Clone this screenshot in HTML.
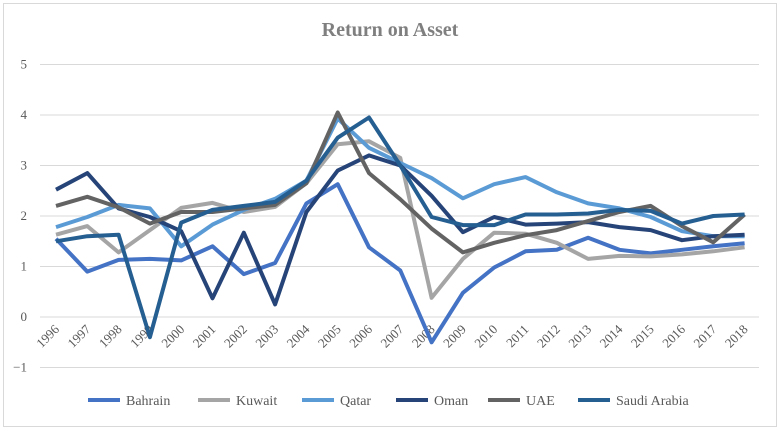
<!DOCTYPE html>
<html><head><meta charset="utf-8"><style>
html,body{margin:0;padding:0;background:#fff;}
svg{display:block;font-family:"Liberation Serif",serif;}
</style></head><body>
<svg id="c" width="780" height="434" viewBox="0 0 780 434" xmlns="http://www.w3.org/2000/svg">
<rect x="3.5" y="3.5" width="773" height="423" fill="#fff" stroke="#d9d9d9"/>
<text x="390" y="36" text-anchor="middle" font-size="20" font-weight="bold" fill="#7f7f7f">Return on Asset</text>
<g id="grid" stroke="#d9d9d9" stroke-width="1"></g>
<g id="ylab" font-size="13" fill="#595959" text-anchor="end"></g>
<g id="xlab" font-size="13" fill="#595959"></g>
<g id="lines" fill="none" stroke-width="4" stroke-linejoin="round"></g>
<g font-size="14" fill="#595959">
<line x1="88" y1="400" x2="120" y2="400" stroke="#4472C4" stroke-width="4"/><text x="126" y="405">Bahrain</text>
<line x1="198" y1="400" x2="230" y2="400" stroke="#A5A5A5" stroke-width="4"/><text x="236" y="405">Kuwait</text>
<line x1="302" y1="400" x2="334" y2="400" stroke="#5B9BD5" stroke-width="4"/><text x="340" y="405">Qatar</text>
<line x1="396" y1="400" x2="428" y2="400" stroke="#264478" stroke-width="4"/><text x="434" y="405">Oman</text>
<line x1="488" y1="400" x2="520" y2="400" stroke="#636363" stroke-width="4"/><text x="526" y="405">UAE</text>
<line x1="578" y1="400" x2="610" y2="400" stroke="#255E91" stroke-width="4"/><text x="616" y="405">Saudi Arabia</text>
</g>
</svg>
<script>
var NS="http://www.w3.org/2000/svg";
function el(p,t,a,txt){var e=document.createElementNS(NS,t);for(var k in a)e.setAttribute(k,a[k]);if(txt!=null)e.textContent=txt;document.getElementById(p).appendChild(e);}
function Y(v){return 317-50.5*v;}
function X(i){return 56+31.3*i;}
for(var v=-1;v<=5;v++){el("grid","line",{x1:40,x2:759,y1:Y(v),y2:Y(v)});el("ylab","text",{x:27,y:Y(v)+4},v<0?"\u22121":String(v));}
for(var i=0;i<23;i++){var x=X(i)+4,y=330;el("xlab","text",{x:x,y:y,"text-anchor":"end",transform:"rotate(-45 "+x+" "+y+")"},String(1996+i));}
var S=[
["#4472C4",[1.55,0.9,1.13,1.15,1.12,1.4,0.85,1.07,2.25,2.63,1.38,0.92,-0.5,0.48,0.98,1.3,1.33,1.57,1.33,1.26,1.33,1.4,1.46]],
["#A5A5A5",[1.63,1.8,1.28,1.72,2.16,2.26,2.08,2.18,2.65,3.42,3.48,3.15,0.38,1.15,1.67,1.65,1.47,1.15,1.21,1.2,1.24,1.3,1.38]],
["#5B9BD5",[1.78,1.98,2.22,2.15,1.4,1.83,2.12,2.34,2.7,3.93,3.35,3.05,2.75,2.35,2.63,2.77,2.47,2.25,2.15,1.98,1.7,1.6,1.6]],
["#264478",[2.52,2.85,2.15,1.98,1.7,0.37,1.67,0.25,2.08,2.9,3.2,3.0,2.4,1.68,1.98,1.83,1.85,1.88,1.78,1.72,1.52,1.6,1.63]],
["#636363",[2.2,2.38,2.17,1.85,2.08,2.08,2.15,2.22,2.65,4.05,2.85,2.33,1.75,1.28,1.47,1.62,1.72,1.9,2.08,2.2,1.8,1.48,2.03]],
["#255E91",[1.5,1.6,1.63,-0.4,1.87,2.12,2.2,2.28,2.7,3.55,3.95,3.0,1.98,1.82,1.82,2.03,2.03,2.05,2.12,2.1,1.85,2.0,2.03]]];
S.forEach(function(s){var p=s[1].map(function(v,i){return X(i).toFixed(1)+","+Y(v).toFixed(1)}).join(" ");el("lines","polyline",{points:p,stroke:s[0]});});
</script>
</body></html>
